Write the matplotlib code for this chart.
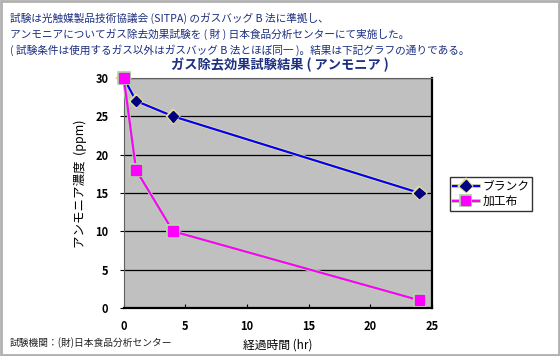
import matplotlib
matplotlib.use('Agg')
import matplotlib.pyplot as plt
import matplotlib.patheffects as pe
from matplotlib.patches import Rectangle

plt.rcParams['font.family'] = ['Noto Sans CJK JP', 'DejaVu Sans']

# data
hours = [0, 1, 4, 24]
blank = [30, 27, 25, 15]
treated = [30, 18, 10, 1]
series_names = ['ブランク', '加工布']

header = ['試験は光触媒製品技術協議会 (SITPA) のガスバッグ B 法に準拠し、',
          'アンモニアについてガス除去効果試験を ( 財 ) 日本食品分析センターにて実施した。',
          '( 試験条件は使用するガス以外はガスバッグ B 法とほぼ同一 )。結果は下記グラフの通りである。']
title = 'ガス除去効果試験結果 ( アンモニア )'
xlabel = '経過時間 (hr)'
ylabel = 'アンモニア濃度  (ppm)'
footer = '試験機関：(財)日本食品分析センター'

navy = '#1c2f80'

fig = plt.figure(figsize=(5.6, 3.56), dpi=100)
fig.patch.set_facecolor('white')
fig.patches.append(Rectangle((0.002, 0.003), 0.996, 0.994, transform=fig.transFigure,
                             fill=False, edgecolor='#b0b0b0', linewidth=2))

ax = fig.add_axes([0.221, 0.135, 0.550, 0.646])
ax.set_facecolor('#c0c0c0')
ax.set_xlim(0, 25)
ax.set_ylim(0, 30)
ax.set_xticks(range(0, 26, 5))
ax.set_yticks(range(0, 31, 5))
ax.yaxis.grid(True, color='black', linewidth=0.9)
ax.set_axisbelow(True)
for s in ['left', 'top']:
    ax.spines[s].set_color('#606060')
    ax.spines[s].set_linewidth(0.8)
for s in ['right', 'bottom']:
    ax.spines[s].set_color('black')
    ax.spines[s].set_linewidth(1.6)
ax.tick_params(axis='x', direction='in', length=3, labelsize=8, pad=9)
ax.tick_params(axis='y', direction='out', length=3, labelsize=8, pad=8)
for lab in ax.get_xticklabels() + ax.get_yticklabels():
    lab.set_fontweight('bold')

ax.plot(hours, blank, color='#0000ff', linewidth=1.6, marker='D', markersize=5.5,
        markerfacecolor='#000080', markeredgecolor='#000080', label=series_names[0],
        clip_on=False, zorder=3,
        path_effects=[pe.Stroke(linewidth=2.8, foreground='#e6dc9a'), pe.Normal()])
ax.plot(hours, treated, color='#ff00ff', linewidth=1.6, marker='s', markersize=7,
        markerfacecolor='#ff00ff', markeredgecolor='#ff00ff', label=series_names[1],
        clip_on=False, zorder=4,
        path_effects=[pe.Stroke(linewidth=2.8, foreground='#a8e0a0'), pe.Normal()])

ax.set_xlabel(xlabel, fontsize=8.5, labelpad=4)
ax.set_ylabel(ylabel, fontsize=9)
ax.yaxis.set_label_coords(-0.12, 0.54)

leg = ax.legend(loc='upper left', bbox_to_anchor=(0.803, 0.503), bbox_transform=fig.transFigure,
                fontsize=8.5, frameon=True, fancybox=False, handlelength=2.2,
                borderpad=0.25, labelspacing=0.15, handletextpad=0.3, borderaxespad=0)
leg.get_frame().set_edgecolor('black')
leg.get_frame().set_linewidth(1.0)

for i, line in enumerate(header):
    fig.text(0.018, 1 - (18 + 16 * i) / 356, line, fontsize=7.7, color=navy, va='center', ha='left')
fig.text(0.5, 1 - 65 / 356, title, fontsize=9.5, fontweight='bold', color=navy, ha='center', va='center')
fig.text(0.018, 1 - 343 / 356, footer, fontsize=7, color='#222222', ha='left', va='center')

fig.savefig('out.png', dpi=100)
